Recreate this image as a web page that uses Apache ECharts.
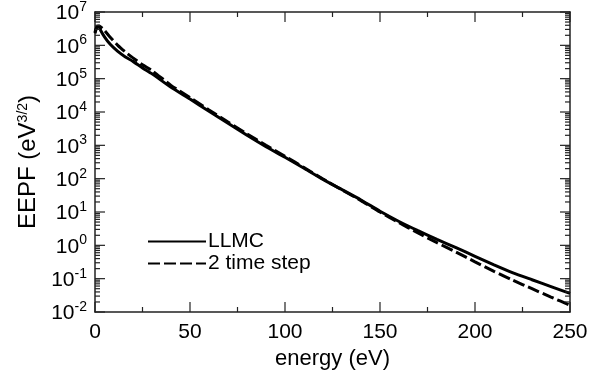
<!DOCTYPE html>
<html>
<head>
<meta charset="utf-8">
<script src="https://cdn.jsdelivr.net/npm/echarts@6/dist/echarts.min.js"></script>
<style>html,body{margin:0;padding:0;background:#fff}#c{width:604px;height:381px}</style>
</head>
<body>
<div id="c"></div>
<script>
// energy (eV)
var energy = [0,1,2,3,5,8,12,16,20,25,30,40,50,60,70,80,90,100,110,120,130,140,150,160,170,180,190,200,210,220,230,240,250];
// EEPF, LLMC (solid)
var llmc = [2.3e6,3.5e6,3.7e6,2.8e6,1.8e6,1.07e6,6.6e5,4.5e5,3.3e5,2.1e5,1.4e5,5.5e4,2.45e4,1.05e4,4.6e3,2.0e3,910,440,205,95,47,23,10.5,5.2,2.75,1.5,0.85,0.47,0.26,0.15,0.093,0.058,0.036];
// EEPF, 2 time step (dashed)
var twoStep = [2.5e6,3.6e6,3.8e6,3.55e6,2.8e6,1.75e6,1.0e6,6.3e5,4.2e5,2.6e5,1.75e5,6.3e4,2.7e4,1.15e4,5.0e3,2.2e3,1.0e3,470,215,98,46,22,10,4.8,2.35,1.2,0.63,0.32,0.166,0.089,0.05,0.028,0.016];
var seriesNames = ['LLMC', '2 time step'];
// x tick values
var xMajorTicks = [0,50,100,150,200,250];
var xMinorTicks = [25,75,125,175,225];
// y tick values (decades) and minor multipliers
var yDecades = [1e-2,1e-1,1e0,1e1,1e2,1e3,1e4,1e5,1e6,1e7];
var yMinorMult = [2,3,4,5,6,7,8,9];

var xMin = 0, xMax = 250, yMin = 1e-2, yMax = 1e7;
var FONT = '"Liberation Sans", Arial, Helvetica, sans-serif';
var INK = '#000';
var FRAME = '#222';
var MAJOR_LEN = 10, MINOR_LEN = 5;
var GRID = {left:95, right:34, top:11, bottom:69};
var PLOT_W = 604 - GRID.left - GRID.right, PLOT_H = 381 - GRID.top - GRID.bottom;
var DECADES = Math.log(yMax / yMin) / Math.LN10;

function pairs(xs, ys){ return xs.map(function(x,i){ return [x, ys[i]]; }); }

// tick segments, expressed in axis units (pixel length -> axis units)
var tickSeries = [];
function addTick(p, q){
  tickSeries.push({type:'line', xAxisIndex:0, yAxisIndex:0, data:[p, q],
    showSymbol:false, symbol:'none', silent:true, clip:false, z:5, animation:false,
    lineStyle:{color:FRAME, width:1.2, type:'solid'}, itemStyle:{color:FRAME},
    emphasis:{disabled:true}, tooltip:{show:false}});
}
function xTick(v, len){
  var f = Math.pow(10, len * DECADES / PLOT_H);
  addTick([v, yMin], [v, yMin * f]);
  addTick([v, yMax], [v, yMax / f]);
}
function yTick(v, len){
  var dx = len * (xMax - xMin) / PLOT_W;
  addTick([xMin, v], [xMin + dx, v]);
  addTick([xMax, v], [xMax - dx, v]);
}
xMajorTicks.forEach(function(v){ xTick(v, MAJOR_LEN); });
xMinorTicks.forEach(function(v){ xTick(v, MINOR_LEN); });
yDecades.forEach(function(d, i){
  yTick(d, MAJOR_LEN);
  if (i < yDecades.length - 1) yMinorMult.forEach(function(m){ yTick(d*m, MINOR_LEN); });
});

var chart = echarts.init(document.getElementById('c'), null, {renderer:'canvas'});

function xAx(extra){
  return Object.assign({
    type:'value', min:xMin, max:xMax, interval:50,
    axisLine:{show:true, onZero:false, lineStyle:{color:FRAME, width:1.5}},
    axisTick:{show:false}, minorTick:{show:false}, axisLabel:{show:false},
    splitLine:{show:false}, minorSplitLine:{show:false}
  }, extra);
}
function yAx(extra){
  return Object.assign({
    type:'log', logBase:10, min:yMin, max:yMax, splitNumber:9,
    axisLine:{show:true, onZero:false, lineStyle:{color:FRAME, width:1.5}},
    axisTick:{show:false}, minorTick:{show:false}, axisLabel:{show:false},
    splitLine:{show:false}, minorSplitLine:{show:false}
  }, extra);
}

var option = {
  backgroundColor:'#fff',
  animation:false,
  textStyle:{fontFamily:FONT, color:INK},
  grid:{left:GRID.left, right:GRID.right, top:GRID.top, bottom:GRID.bottom, containLabel:false},
  legend:{
    orient:'vertical', left:147, top:231, padding:0, itemWidth:58, itemHeight:14, itemGap:1,
    data:seriesNames,
    itemStyle:{opacity:0},
    textStyle:{fontFamily:FONT, fontSize:21, color:INK, padding:[0,0,0,-3]}
  },
  xAxis:[
    xAx({
      position:'bottom',
      name:'energy (eV)', nameLocation:'middle', nameGap:31,
      nameTextStyle:{fontFamily:FONT, fontSize:22, color:INK},
      axisLabel:{show:true, margin:10, fontFamily:FONT, fontSize:21, color:INK}
    }),
    xAx({position:'top'})
  ],
  yAxis:[
    yAx({
      position:'left',
      name:'{a|EEPF (eV}{s|3/2}{a|)}', nameLocation:'middle', nameGap:55, nameRotate:90,
      nameTextStyle:{fontFamily:FONT, color:INK, rich:{
        a:{fontFamily:FONT, fontSize:24, color:INK, verticalAlign:'bottom'},
        s:{fontFamily:FONT, fontSize:14, color:INK, verticalAlign:'bottom', padding:[0,0,10,0]}
      }},
      axisLabel:{show:true, margin:8, fontFamily:FONT, color:INK,
        formatter:function(v){ var e = Math.round(Math.log(v)/Math.LN10); return '{b|10}{e|' + e + '}'; },
        rich:{
          b:{fontFamily:FONT, fontSize:21, color:INK, verticalAlign:'bottom'},
          e:{fontFamily:FONT, fontSize:14, color:INK, verticalAlign:'bottom', padding:[0,0,10,0]}
        }
      }
    }),
    yAx({position:'right'})
  ],
  series:[
    {name:seriesNames[0], type:'line', xAxisIndex:0, yAxisIndex:0, data:pairs(energy, llmc),
     showSymbol:false, symbol:'none', smooth:0.2,
     lineStyle:{color:INK, width:3, type:'solid'}, itemStyle:{color:INK}},
    {name:seriesNames[1], type:'line', xAxisIndex:0, yAxisIndex:0, data:pairs(energy, twoStep),
     showSymbol:false, symbol:'none', smooth:0.2,
     lineStyle:{color:INK, width:3, type:[12,4]}, itemStyle:{color:INK}}
  ].concat(tickSeries)
};
chart.setOption(option);
</script>
</body>
</html>
